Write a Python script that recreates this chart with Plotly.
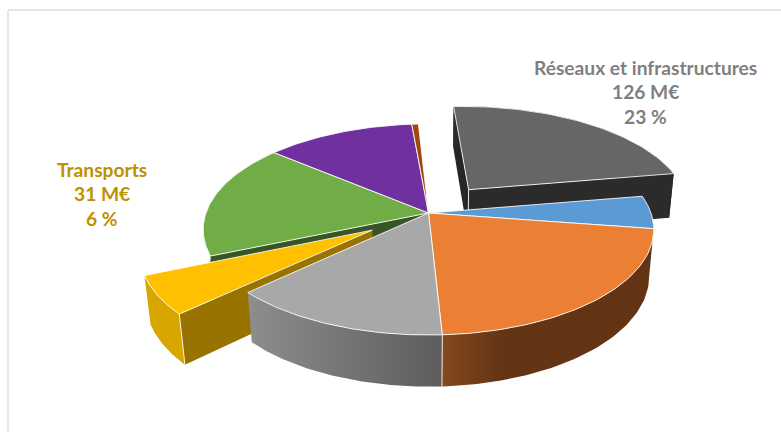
import math
import plotly.graph_objects as go

# Budget lines in M€, clockwise from the top of the pie
names = ["Réseaux et infrastructures", "Poste bleu", "Poste orange", "Poste gris",
         "Transports", "Poste vert", "Poste violet", "Poste brun"]
values = [126, 28, 119, 75, 31, 96, 68, 3]
top_colors = ["#666666", "#5b9bd5", "#eb7f34", "#a8a8a8", "#ffc000", "#70ad47", "#7030a0", "#9e480e"]
exploded = [0.30, 0, 0, 0, 0.295, 0, 0, 0]

# Camera used to flatten the pie onto the page
CX, CY = 428.5, 213
RX, RY = 222.5, 103
TILT, DEPTH_SCALE = 0.156, 0.02
THICKNESS = 47
FIRST_ANGLE = -3
WHITE = "rgba(255,255,255,0.85)"


def project(u, v, z):
    w = 1 - TILT * v + DEPTH_SCALE * z
    return CX + RX * u / w, CY + (RY * v + THICKNESS * z) / w


total = sum(values)
slices = []
angle = FIRST_ANGLE
for value, pull in zip(values, exploded):
    sweep = value / total * 360
    mid = math.radians(angle + sweep / 2)
    slices.append(dict(start=angle, end=angle + sweep,
                       du=pull * math.sin(mid), dv=-pull * math.cos(mid)))
    angle += sweep


def arc(s, a0, a1, z, n=60):
    pts = []
    for i in range(n + 1):
        a = math.radians(a0 + (a1 - a0) * i / n)
        pts.append(project(math.sin(a) + s["du"], -math.cos(a) + s["dv"], z))
    return pts


def apex(s, z):
    return project(s["du"], s["dv"], z)


def edge(s, a, z):
    r = math.radians(a)
    return project(math.sin(r) + s["du"], -math.cos(r) + s["dv"], z)


fig = go.Figure()


def polygon(pts, color=None, line=None, gradient=None):
    xs = [p[0] for p in pts] + [pts[0][0]]
    ys = [p[1] for p in pts] + [pts[0][1]]
    kw = dict(x=xs, y=ys, mode="lines", fill="toself", hoverinfo="skip", showlegend=False,
              line=dict(color=line or "rgba(0,0,0,0)", width=1 if line else 0))
    if gradient:
        kw["fillgradient"] = dict(type="horizontal", colorscale=gradient)
    else:
        kw["fillcolor"] = color
    fig.add_trace(go.Scatter(**kw))


def stroke(p0, p1):
    fig.add_trace(go.Scatter(x=[p0[0], p1[0]], y=[p0[1], p1[1]], mode="lines", hoverinfo="skip",
                             showlegend=False, line=dict(color=WHITE, width=1)))


def top(s, color):
    polygon([apex(s, 0)] + arc(s, s["start"], s["end"], 0), color, WHITE)


def rim(s, a0, a1, color=None, gradient=None):
    polygon(arc(s, a0, a1, 0) + arc(s, a1, a0, 1), color, gradient=gradient)


def wall(s, a, color):
    polygon([apex(s, 0), edge(s, a, 0), edge(s, a, 1), apex(s, 1)], color)


res, blue, orange, gray, trans, green, purple, brown = slices

# Pulled-out back slice
wall(res, res["start"], "#262626")
rim(res, res["start"], res["end"], "#2b2b2b")
wall(res, res["end"], "#2b2b2b")
top(res, top_colors[0])
stroke(apex(res, 0), apex(res, 1))

# Rear part of the pie
rim(green, green["start"], green["end"], "#5f9a3c")
wall(green, green["start"], "#375623")
top(green, top_colors[5])
top(purple, top_colors[6])
top(brown, top_colors[7])

# Pulled-out front-left slice
rim(trans, trans["start"], trans["end"], "#d9a600")
wall(trans, trans["start"], "#997300")
top(trans, top_colors[4])
stroke(edge(trans, trans["start"], 0), edge(trans, trans["start"], 1))

# Front of the pie
rim(gray, gray["start"], gray["end"],
    gradient=[[0, "#8e8e8e"], [1, "#5c5c5c"]])
rim(orange, orange["start"], orange["end"],
    gradient=[[0, "#84491f"], [0.28, "#633515"], [1, "#623414"]])
top(blue, top_colors[1])
top(orange, top_colors[2])
top(gray, top_colors[3])
stroke(edge(orange, orange["end"], 0), edge(orange, orange["end"], 1))


def block(lines, x, ys, color):
    for text, y in zip(lines, ys):
        fig.add_annotation(x=x, y=y, text=f"<b>{text}</b>", showarrow=False, xanchor="center",
                           yanchor="middle", font=dict(family="Lato", size=19.2, color=color))


block([names[0], f"{values[0]} M€", f"{round(values[0] / total * 100)} %"], 645, [67, 91, 116], "#7f7f7f")
block([names[4], f"{values[4]} M€", f"{round(values[4] / total * 100)} %"], 102, [169, 193, 218], "#bf9000")

fig.update_layout(
    width=781, height=432, margin=dict(l=0, r=0, t=0, b=0),
    paper_bgcolor="white", plot_bgcolor="white", showlegend=False,
    xaxis=dict(range=[0, 781], visible=False, fixedrange=True),
    yaxis=dict(range=[432, 0], visible=False, fixedrange=True),
    shapes=[
        dict(type="line", x0=8, x1=8, y0=10, y1=432, line=dict(color="#dedede", width=1.5)),
        dict(type="line", x0=8, x1=781, y0=10, y1=10, line=dict(color="#dedede", width=1.5)),
    ],
)
fig.write_html("out.html", config={"displayModeBar": False})
